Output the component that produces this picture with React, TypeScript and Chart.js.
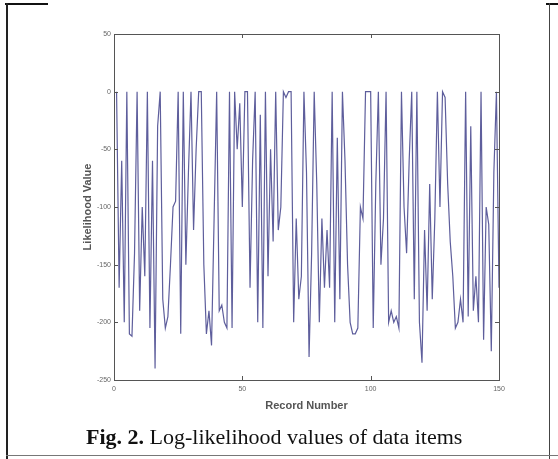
import React, { useEffect, useRef } from "react";
import { Chart, registerables } from "chart.js";

Chart.register(...registerables);

// Log-likelihood value for each record (records 1..150)
const likelihood: number[] = [
  0, -170, -60, -200, 0, -210, -212, -140, 0, -190,
  -100, -160, 0, -205, -60, -240, -30, 0, -180, -205,
  -195, -150, -100, -95, 0, -210, 0, -150, -70, 0,
  -120, -50, 0, 0, -150, -210, -190, -220, -110, 0,
  -190, -185, -200, -205, 0, -205, 0, -50, -10, -100,
  0, 0, -170, -60, 0, -200, -20, -205, 0, -160,
  -50, -130, 0, -120, -100, 0, -5, 0, 0, -200,
  -110, -180, -160, 0, -70, -230, -140, 0, -80, -200,
  -110, -170, -120, -170, 0, -200, -40, -180, 0, -60,
  -150, -200, -210, -210, -205, -100, -110, 0, 0, 0,
  -205, -80, 0, -150, -110, 0, -200, -190, -200, -195,
  -205, 0, -100, -140, -60, 0, -180, 0, -200, -235,
  -120, -190, -80, -180, -110, 0, -100, 0, -5, -80,
  -130, -160, -205, -200, -180, -200, 0, -195, -30, -190,
  -160, -200, 0, -215, -100, -115, -225, -70, 0, -170,
];

const xTicks: number[] = [0, 50, 100, 150];
const yTicks: number[] = [50, 0, -50, -100, -150, -200, -250];

const xTitle = "Record Number";
const yTitle = "Likelihood Value";
const captionBold = "Fig. 2.";
const captionText = " Log-likelihood values of data items";

const boxPlugin = {
  id: "matlabBox",
  afterDraw(chart: any) {
    const { ctx, chartArea } = chart;
    const xs = chart.scales.x;
    const ys = chart.scales.y;
    const { left, right, top, bottom } = chartArea;
    ctx.save();
    ctx.strokeStyle = "#555";
    ctx.lineWidth = 1;
    ctx.strokeRect(left + 0.5, top + 0.5, right - left, bottom - top);
    const len = 4;
    ctx.beginPath();
    xTicks.forEach((v) => {
      const px = Math.round(xs.getPixelForValue(v)) + 0.5;
      ctx.moveTo(px, bottom);
      ctx.lineTo(px, bottom - len);
      ctx.moveTo(px, top);
      ctx.lineTo(px, top + len);
    });
    yTicks.forEach((v) => {
      const py = Math.round(ys.getPixelForValue(v)) + 0.5;
      ctx.moveTo(left, py);
      ctx.lineTo(left + len, py);
      ctx.moveTo(right, py);
      ctx.lineTo(right - len, py);
    });
    ctx.stroke();
    ctx.restore();
  },
};

export default function App() {
  const canvasRef = useRef<HTMLCanvasElement | null>(null);

  useEffect(() => {
    if (!canvasRef.current) return;
    const data = likelihood.map((v, i) => ({ x: i + 1, y: v }));
    const tickFont = { size: 7, family: "Liberation Sans, Arial, sans-serif" };
    const titleFont = { size: 11, weight: "bold" as const, family: "Liberation Sans, Arial, sans-serif" };
    const chart = new Chart(canvasRef.current, {
      type: "line",
      data: {
        datasets: [
          {
            data,
            borderColor: "#5e5e9c",
            borderWidth: 1.2,
            pointRadius: 0,
            tension: 0,
            fill: false,
          },
        ],
      },
      options: {
        responsive: false,
        animation: false,
        devicePixelRatio: 1,
        layout: { padding: { left: 81, top: 34, right: 59, bottom: 46 } },
        plugins: { legend: { display: false }, tooltip: { enabled: false } },
        scales: {
          x: {
            type: "linear",
            min: 0,
            max: 150,
            afterBuildTicks: (s: any) => {
              s.ticks = xTicks.map((v) => ({ value: v }));
            },
            ticks: { font: tickFont, color: "#666", padding: 5, maxRotation: 0 },
            grid: { display: false, drawTicks: false },
            border: { display: false },
            title: { display: true, text: xTitle, font: titleFont, color: "#555", padding: 0 },
            afterFit: (s: any) => {
              s.height = 33;
            },
          },
          y: {
            type: "linear",
            min: -250,
            max: 50,
            afterBuildTicks: (s: any) => {
              s.ticks = yTicks.map((v) => ({ value: v }));
            },
            ticks: { font: tickFont, color: "#666", padding: 3 },
            grid: { display: false, drawTicks: false },
            border: { display: false },
            title: { display: true, text: yTitle, font: titleFont, color: "#555", padding: 0 },
            afterFit: (s: any) => {
              s.width = 33;
            },
          },
        },
      },
      plugins: [boxPlugin],
    });
    return () => chart.destroy();
  }, []);

  return (
    <div style={{ position: "fixed", left: 0, top: 0, width: 558, height: 459, background: "#fff", overflow: "hidden" }}>
      <canvas ref={canvasRef} width={558} height={459} style={{ position: "absolute", left: 0, top: 0 }} />
      <div style={{ position: "absolute", left: 5, top: 3, width: 43, height: 2, background: "#111" }} />
      <div style={{ position: "absolute", left: 546, top: 3, width: 12, height: 2, background: "#111" }} />
      <div style={{ position: "absolute", left: 6, top: 3, width: 2, height: 456, background: "#222" }} />
      <div style={{ position: "absolute", left: 549, top: 3, width: 1, height: 456, background: "#444" }} />
      <div style={{ position: "absolute", left: 6, top: 455, width: 552, height: 1, background: "#777" }} />
      <div
        style={{
          position: "absolute",
          left: 86,
          top: 426,
          whiteSpace: "nowrap",
          fontFamily: "'Liberation Serif', 'Times New Roman', serif",
          fontSize: 22,
          lineHeight: "22px",
          color: "#111",
        }}
      >
        <b>{captionBold}</b>
        {captionText}
      </div>
    </div>
  );
}
